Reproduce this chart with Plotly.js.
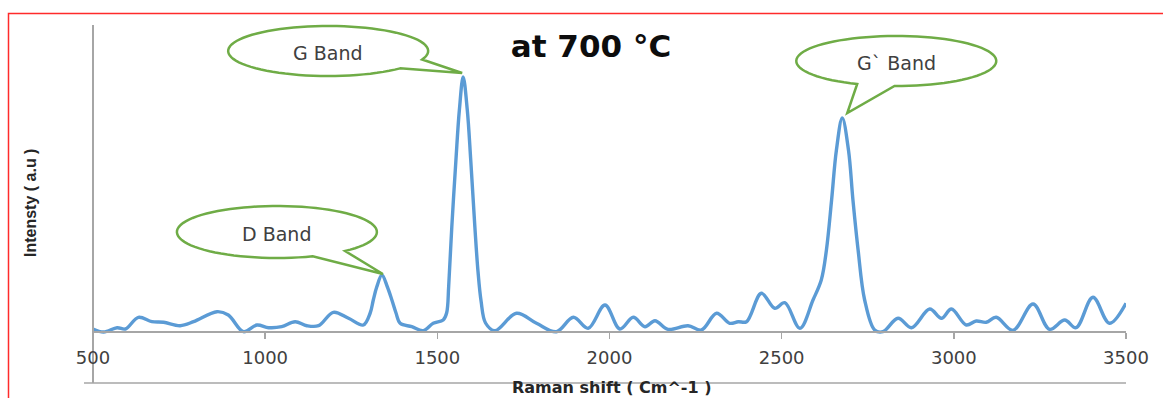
<!DOCTYPE html>
<html>
<head>
<meta charset="utf-8">
<script src="https://cdn.plot.ly/plotly-3.0.1.min.js"></script>
<style>html,body{margin:0;padding:0;background:#fff;}#chart{width:1163px;height:398px;}</style>
</head>
<body>
<div id="chart"></div>
<script>
// ---- data ----
const ramanShift = [500, 531, 570, 594, 632, 671, 705, 753, 792, 860,
  893, 937, 976, 1010, 1048, 1087, 1121, 1155, 1198, 1242,
  1285, 1305, 1314, 1324, 1339, 1355, 1368, 1380, 1392, 1426,
  1459, 1488, 1517, 1527, 1533, 1542, 1554, 1564, 1575, 1587,
  1597, 1609, 1618, 1627, 1640, 1667, 1730, 1788, 1846, 1895,
  1938, 1987, 2030, 2069, 2103, 2132, 2170, 2228, 2267, 2311,
  2349, 2374, 2398, 2441, 2480, 2509, 2553, 2591, 2615, 2630,
  2645, 2659, 2676, 2694, 2707, 2722, 2741, 2770, 2794, 2838,
  2877, 2930, 2964, 2993, 3036, 3065, 3094, 3123, 3172, 3230,
  3278, 3322, 3355, 3404, 3452, 3500];
const intensity = [2, -1, 3.3, 2, 13.7, 9.3, 8.7, 5.3, 9.3, 19.3,
  16, -0.7, 6, 3.3, 4.3, 9.3, 5.3, 5.3, 18.7, 12.7,
  6, 18, 31, 44, 56, 44, 31, 18, 7.7, 4.3,
  0.3, 7.7, 11, 18, 45, 104, 171, 221, 254, 221,
  171, 104, 60, 30, 8, 0.3, 17.7, 7.7, -0.7, 13.7,
  2.7, 26, 2, 13.7, 4.3, 10.3, 1.7, 5.3, 1, 17.7,
  7.7, 9.3, 9.3, 37.7, 22.7, 28.3, 2.7, 31, 51, 81,
  131, 181, 213, 181, 131, 81, 31, 1, -0.7, 12.7,
  3.3, 22, 12.7, 22, 6, 10, 8.7, 13.7, 0.7, 27,
  1.7, 11, 3.3, 33.7, 7.7, 27.7];
const xTicks = [500, 1000, 1500, 2000, 2500, 3000, 3500];
const bandLabels = ["D Band", "G Band", "G` Band"];
const bandWindows = [[1250, 1450], [1500, 1700], [2550, 2800]];

// ---- layout geometry ----
const W = 1163, H = 398, L = 93, R = 37, T = 25, B = 15;
const pw = W - L - R, ph = H - T - B;
const xr = [500, 3500], yr = [-52, 306];
const x2px = x => L + (x - xr[0]) / (xr[1] - xr[0]) * pw;
const y2py = y => T + (yr[1] - y) / (yr[1] - yr[0]) * ph;
const pxp = px => (px - L) / pw;          // pixel -> paper x
const pyp = py => 1 - (py - T) / ph;      // pixel -> paper y

// callout styles: ellipse offset from tip, radii, tail attach angles (deg)
const calloutStyle = [
  {dx: -106, dy: -42, rx: 100, ry: 26, a1: 47, a2: 69, tdx: 1, tdy: -1},
  {dx: -134, dy: -22, rx: 100, ry: 25, a1: 20, a2: 44, tdx: -1, tdy: -4},
  {dx: 49, dy: -52, rx: 100, ry: 25, a1: 91, a2: 113, tdx: 5, tdy: -5}
];

const shapes = [];
const annotations = [];
bandWindows.forEach((w, i) => {
  let best = -1e9, bx = 0;
  ramanShift.forEach((x, k) => { if (x >= w[0] && x <= w[1] && intensity[k] > best) { best = intensity[k]; bx = x; } });
  const s = calloutStyle[i];
  const tipX = x2px(bx) + s.tdx, tipY = y2py(best) + s.tdy;
  const cx = tipX + s.dx, cy = tipY + s.dy;
  const pts = [];
  const n = 80;
  for (let j = 0; j <= n; j++) {
    const a = (s.a2 + (360 - (s.a2 - s.a1)) * j / n) * Math.PI / 180;
    pts.push([cx + s.rx * Math.cos(a), cy + s.ry * Math.sin(a)]);
  }
  pts.push([tipX, tipY]);
  let d = "M" + pts.map(p => pxp(p[0]).toFixed(5) + "," + pyp(p[1]).toFixed(5)).join(" L") + " Z";
  shapes.push({type: "path", xref: "paper", yref: "paper", path: d,
    fillcolor: "white", line: {color: "#6fac46", width: 2.5}, layer: "above"});
  annotations.push({xref: "paper", yref: "paper", x: pxp(cx), y: pyp(cy + 2), text: bandLabels[i],
    showarrow: false, xanchor: "center", yanchor: "middle",
    font: {family: "DejaVu Sans", size: 19, color: "#404040"}});
});

// bottom frame line and red outer border
shapes.unshift({type: "line", xref: "paper", yref: "paper", x0: pxp(84), x1: 1, y0: 0, y1: 0,
  line: {color: "#a6a6a6", width: 1.5}});
shapes.unshift({type: "rect", xref: "paper", yref: "paper", x0: pxp(8.5), x1: 1.2, y0: -0.3, y1: pyp(13.5),
  line: {color: "#ff2b2b", width: 1.5}, fillcolor: "rgba(0,0,0,0)"});

annotations.push({xref: "paper", yref: "paper", x: pxp(611), y: pyp(387), text: "<b>Raman shift ( Cm^-1 )</b>",
  showarrow: false, xanchor: "center", yanchor: "middle",
  font: {family: "DejaVu Sans", size: 16, color: "#262626"}});
annotations.push({xref: "paper", yref: "paper", x: pxp(30), y: pyp(203), text: "<b>Intensty ( a.u )</b>",
  showarrow: false, xanchor: "center", yanchor: "middle", textangle: -90,
  font: {family: "Liberation Sans Narrow, Liberation Sans", size: 16, color: "#262626"}});

const trace = {
  x: ramanShift, y: intensity, type: "scatter", mode: "lines",
  line: {color: "#5b9bd5", width: 3.4, shape: "spline", smoothing: 1},
  hoverinfo: "skip"
};

const layout = {
  width: W, height: H,
  margin: {l: L, r: R, t: T, b: B, pad: 0},
  paper_bgcolor: "white", plot_bgcolor: "white",
  showlegend: false,
  title: {text: "<b>at 700 °C</b>", xref: "container", yref: "container",
    x: 591 / W, y: 1 - 46 / H, xanchor: "center", yanchor: "middle",
    font: {family: "DejaVu Sans", size: 31, color: "#0d0d0d"}},
  xaxis: {range: xr, anchor: "free", position: (0 - yr[0]) / (yr[1] - yr[0]),
    showline: true, linecolor: "#a6a6a6", linewidth: 1.5,
    ticks: "outside", ticklen: 6, tickcolor: "#a6a6a6", tickwidth: 1.5,
    tickvals: xTicks, ticktext: xTicks.map(String), ticklabelstandoff: 4,
    tickfont: {family: "DejaVu Sans", size: 18, color: "#404040"},
    showgrid: false, zeroline: false, fixedrange: true},
  yaxis: {range: yr, anchor: "free", position: 0,
    showline: true, linecolor: "#a6a6a6", linewidth: 2,
    showticklabels: false, ticks: "", showgrid: false, zeroline: false, fixedrange: true},
  shapes: shapes,
  annotations: annotations
};

Plotly.newPlot("chart", [trace], layout, {displayModeBar: false, staticPlot: true});
</script>
</body>
</html>
